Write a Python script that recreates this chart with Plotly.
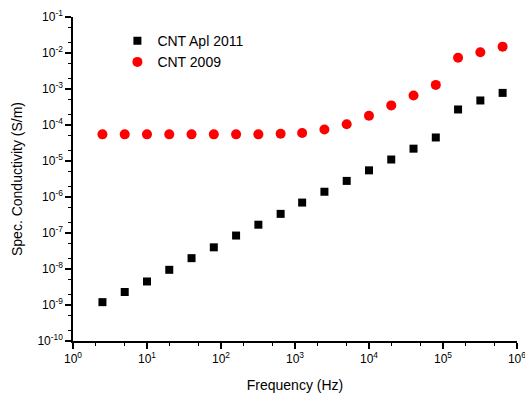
import plotly.graph_objects as go

freq = [2.5, 5, 10, 20, 40, 80, 160, 320, 640, 1250, 2500, 5000, 1e4, 2e4, 4e4, 8e4, 1.6e5, 3.2e5, 6.4e5]
cnt_apl_2011 = [1.2e-9, 2.3e-9, 4.5e-9, 9.5e-9, 2.0e-8, 4.0e-8, 8.5e-8, 1.7e-7, 3.4e-7, 7.0e-7,
                1.4e-6, 2.8e-6, 5.5e-6, 1.1e-5, 2.2e-5, 4.5e-5, 2.7e-4, 4.8e-4, 7.8e-4]
cnt_2009 = [5.5e-5, 5.5e-5, 5.5e-5, 5.5e-5, 5.5e-5, 5.5e-5, 5.5e-5, 5.5e-5, 5.7e-5, 6.0e-5,
            7.5e-5, 1.05e-4, 1.8e-4, 3.5e-4, 6.6e-4, 1.3e-3, 7.4e-3, 1.05e-2, 1.5e-2]

x_exps = [0, 1, 2, 3, 4, 5, 6]
y_exps = [-10, -9, -8, -7, -6, -5, -4, -3, -2, -1]

FONT = "Liberation Sans, Arial, sans-serif"

fig = go.Figure()
fig.add_trace(go.Scatter(x=freq, y=cnt_apl_2011, mode="markers", name="CNT Apl 2011",
                         marker=dict(symbol="square", size=8, color="black")))
fig.add_trace(go.Scatter(x=freq, y=cnt_2009, mode="markers", name="CNT 2009",
                         marker=dict(symbol="circle", size=10, color="#ff0000")))

axis_common = dict(type="log", showline=True, linecolor="black", linewidth=1.5,
                   ticks="outside", ticklen=6, tickwidth=1.5, tickcolor="black",
                   showgrid=False, zeroline=False, mirror=False,
                   ticklabeloverflow="allow",
                   tickfont=dict(family=FONT, size=12, color="black"),
                   minor=dict(ticks="outside", ticklen=3, tickwidth=1, tickcolor="black", showgrid=False))

fig.update_xaxes(**axis_common, range=[0, 6.0005], automargin=False,
                 tickvals=[10 ** e for e in x_exps],
                 ticktext=[f"10<sup>{e}</sup>" for e in x_exps],
                 title=dict(text="Frequency (Hz)", font=dict(family=FONT, size=14, color="black")))
fig.update_yaxes(**axis_common, range=[-10, -1],
                 tickvals=[10 ** e for e in y_exps],
                 ticktext=[f"10<sup>{e}</sup>" for e in y_exps],
                 title=dict(text="Spec. Conductivity (S/m)", font=dict(family=FONT, size=14, color="black"), standoff=11))

fig.update_layout(width=525, height=395, margin=dict(l=73, r=8, t=15, b=54),
                  plot_bgcolor="white", paper_bgcolor="white",
                  font=dict(family=FONT, color="black"),
                  legend=dict(x=0.1, y=0.975, xanchor="left", yanchor="top",
                              bgcolor="rgba(0,0,0,0)", font=dict(family=FONT, size=14, color="black"),
                              itemsizing="trace", tracegroupgap=0))

fig.write_html("out.html")
